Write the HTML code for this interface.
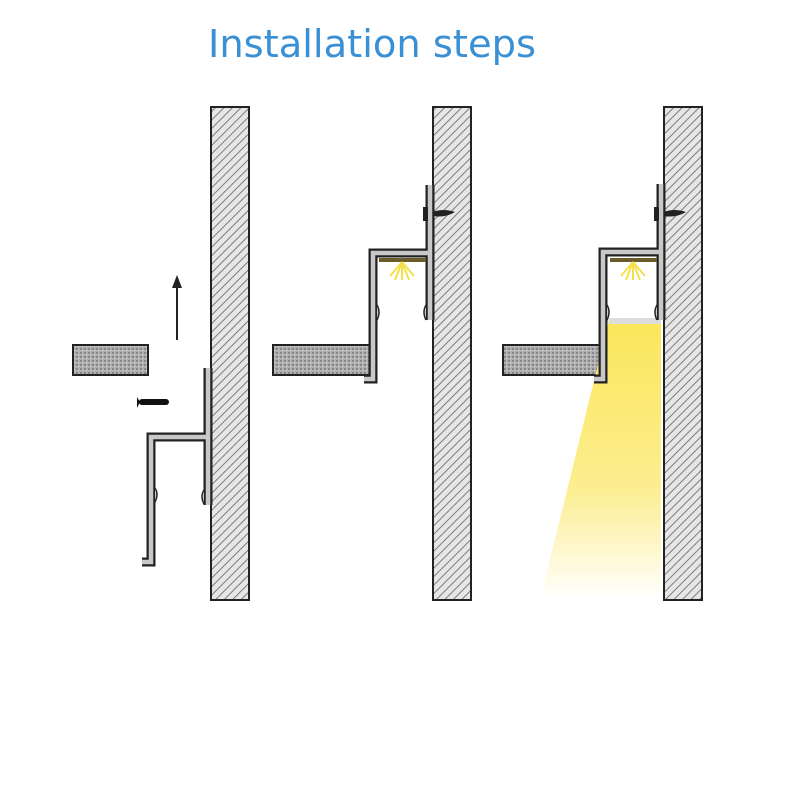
<!DOCTYPE html>
<html><head><style>body{margin:0;background:#fff}</style></head><body>
<svg width="800" height="800" xmlns="http://www.w3.org/2000/svg">
<defs>
<pattern id="h" width="6" height="6" patternUnits="userSpaceOnUse" patternTransform="rotate(45)">
<rect width="6" height="6" fill="#e6e6e6"/><line x1="0" y1="0" x2="0" y2="6" stroke="#707070" stroke-width="1.8"/></pattern>
<pattern id="s" width="4" height="4" patternUnits="userSpaceOnUse"><rect width="4" height="4" fill="#b0b0b0"/><rect x="0" y="0" width="2" height="2" fill="#888"/><rect x="2" y="2" width="1" height="1" fill="#ddd"/></pattern>
<linearGradient id="b" x1="0" y1="0" x2="0" y2="1"><stop offset="0" stop-color="#fbe65a"/><stop offset="0.6" stop-color="#fcee90"/><stop offset="1" stop-color="#fff" stop-opacity="1"/></linearGradient>
</defs>
<text x="372" y="57" text-anchor="middle" font-family="'DejaVu Sans','Liberation Sans',sans-serif" font-size="38" fill="#3a90d4" textLength="328" lengthAdjust="spacingAndGlyphs">Installation steps</text>
<!-- walls -->
<rect x="211" y="107" width="38" height="493" fill="url(#h)" stroke="#222" stroke-width="2"/>
<rect x="433" y="107" width="38" height="493" fill="url(#h)" stroke="#222" stroke-width="2"/>
<rect x="664" y="107" width="38" height="493" fill="url(#h)" stroke="#222" stroke-width="2"/>
<!-- slabs -->
<rect x="73" y="345" width="75" height="30" fill="url(#s)" stroke="#222" stroke-width="2"/>
<rect x="273" y="345" width="97" height="30" fill="url(#s)" stroke="#222" stroke-width="2"/>
<rect x="503" y="345" width="97" height="30" fill="url(#s)" stroke="#222" stroke-width="2"/>
<!-- beam -->
<polygon points="609,320 661,320 661,600 540,600" fill="url(#b)"/>
<rect x="609" y="318" width="52" height="6" fill="#ddd"/>
<!-- arrow & screw panel1 -->
<line x1="177" y1="340" x2="177" y2="282" stroke="#222" stroke-width="2"/>
<polygon points="177,275 172,288 182,288" fill="#222"/>
<path d="M137,397 L140,402 L137,408 Z" fill="#111"/><rect x="139" y="399" width="30" height="6" rx="3" fill="#111"/>
<!-- profiles -->
<g fill="none" stroke-linejoin="miter">
<path d="M208,368 V505 M208,437 H151 V562 H142" stroke="#222" stroke-width="9"/>
<path d="M208,368 V505 M208,437 H151 V562 H142" stroke="#c8c8c8" stroke-width="4.5"/>
<path d="M430,185 V320 M430,253 H373 V379 H364" stroke="#222" stroke-width="9"/>
<path d="M430,185 V320 M430,253 H373 V379 H364" stroke="#c8c8c8" stroke-width="4.5"/>
<path d="M661,184 V320 M661,252 H603 V379 H594" stroke="#222" stroke-width="9"/>
<path d="M661,184 V320 M661,252 H603 V379 H594" stroke="#c8c8c8" stroke-width="4.5"/>
</g>
<!-- bumps -->
<g fill="#ccc" stroke="#222" stroke-width="1.5">
<path d="M204,490 q-4,6 0,14 M155,488 q4,6 0,14"/>
<path d="M426,305 q-4,7 0,15 M377,305 q4,7 0,15"/>
<path d="M657,305 q-4,7 0,15 M607,305 q4,7 0,15"/>
</g>
<!-- LED strips -->
<rect x="379" y="258" width="47" height="4" fill="#6b5a2a"/>
<rect x="610" y="258" width="47" height="4" fill="#6b5a2a"/>
<g stroke="#f3e04a" stroke-width="2">
<path d="M402,262 V280 M402,262 L390,276 M402,262 L414,276 M402,262 L395,280 M402,262 L409,280"/>
<path d="M633,262 V280 M633,262 L621,276 M633,262 L645,276 M633,262 L626,280 M633,262 L640,280"/>
</g>
<!-- screws in walls -->
<g fill="#222"><rect x="423" y="207" width="5" height="14"/><path d="M433,212 q10,-4 22,0 q-10,6 -22,4Z"/>
<rect x="654" y="207" width="5" height="14"/><path d="M664,212 q10,-4 22,0 q-10,6 -22,4Z"/></g>
</svg>
</body></html>
